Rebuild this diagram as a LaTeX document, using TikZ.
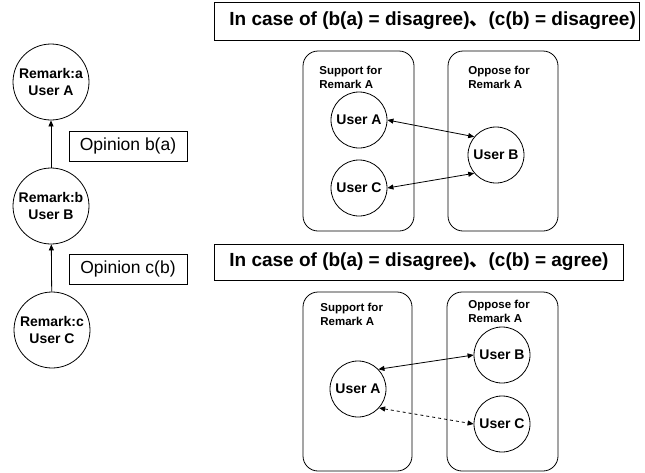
\documentclass[tikz,border=0pt]{standalone}
\usepackage{fontspec}
\setmainfont{Liberation Sans}
\newfontfamily\cjk{Noto Sans CJK JP}
\usetikzlibrary{arrows.meta}
\begin{document}
\begin{tikzpicture}[x=1pt,y=-1pt,
  every path/.style={line width=0.8pt},
  bigcirc/.style={circle, draw, minimum size=76pt, inner sep=0pt, align=center, font=\bfseries\fontsize{14}{17}\selectfont},
  ucirc/.style={circle, draw, minimum size=56pt, inner sep=0pt, font=\bfseries\fontsize{14}{17}\selectfont},
  grp/.style={draw, rounded corners=15pt, inner sep=0pt},
  lbl/.style={anchor=north west, align=left, inner sep=0pt, font=\bfseries\fontsize{11.5}{14}\selectfont},
  opbox/.style={draw, minimum width=118pt, minimum height=30pt, inner sep=0pt, font=\fontsize{17.5}{20}\selectfont},
  tbox/.style={draw, inner sep=0pt},
  ttext/.style={anchor=west, inner sep=0pt, font=\bfseries\fontsize{19}{22}\selectfont},
  tip/.style={-{Triangle[length=6pt,width=5pt]}},
  dtip/.style={{Triangle[length=6pt,width=5pt]}-{Triangle[length=6pt,width=5pt]}}
]
\useasboundingbox (0,0) rectangle (645,472);

% left chain
\node[bigcirc] (ra) at (51,82) {Remark:a\\User A};
\node[bigcirc] (rb) at (51,206) {Remark:b\\User B};
\node[bigcirc] (rc) at (52,330) {Remark:c\\User C};
\draw[tip] (rb) -- (ra);
\draw[tip] (rc) -- (rb);
\node[opbox] (ob) at (128,146) {Opinion b(a)};
\node[opbox] (oc) at (128,269) {Opinion c(b)};

% titles
\node[tbox, minimum width=425pt, minimum height=38pt] (t1) at (426.5,21) {};
\node[ttext] (t1x) at (229,21) {In case of (b(a) = disagree){\cjk 、}(c(b) = disagree)};
\node[tbox, minimum width=409pt, minimum height=36pt] (t2) at (418.5,262) {};
\node[ttext] (t2x) at (229,262) {In case of (b(a) = disagree){\cjk 、}(c(b) = agree)};

% top panel
\node[grp, minimum width=111pt, minimum height=180pt] (s1) at (358.5,141) {};
\node[grp, minimum width=110pt, minimum height=180pt] (p1) at (503,141) {};
\node[lbl] (s1l) at (319,66) {Support for\\Remark A};
\node[lbl] (p1l) at (468,66) {Oppose for\\Remark A};
\node[ucirc] (tA) at (359,120) {User A};
\node[ucirc] (tC) at (359,188) {User C};
\node[ucirc] (tB) at (496,155) {User B};
\draw[dtip] (tA.east) -- (tB.140);
\draw[dtip] (tC.east) -- (tB.220);

% bottom panel
\node[grp, minimum width=109pt, minimum height=179pt] (s2) at (357.5,381.5) {};
\node[grp, minimum width=111pt, minimum height=179pt] (p2) at (502.5,381.5) {};
\node[lbl] (s2l) at (320,303) {Support for\\Remark A};
\node[lbl] (p2l) at (468,300) {Oppose for\\Remark A};
\node[ucirc] (bA) at (358,389) {User A};
\node[ucirc] (bB) at (502,355) {User B};
\node[ucirc] (bC) at (502,424) {User C};
\draw[dtip] (bA.44) -- (bB.west);
\draw[dtip, dashed] (bA.-42) -- (bC.west);
\end{tikzpicture}
\end{document}
